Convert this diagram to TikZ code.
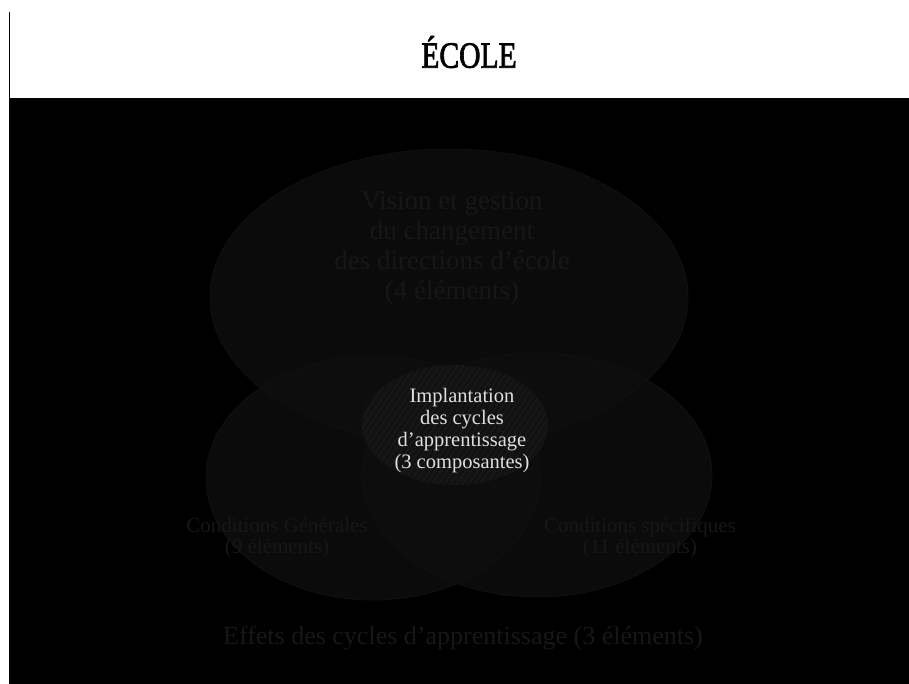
\documentclass[tikz,border=0pt]{standalone}
\usepackage{fontspec}
\setmainfont{Liberation Serif}
\newfontfamily\ttlfont[FakeBold=2.2]{Liberation Serif}
\definecolor{zonefill}{HTML}{0B0B0B}
\definecolor{zoneedge}{HTML}{111111}
\definecolor{dimgray}{HTML}{171717}
\definecolor{hatchgray}{HTML}{1D1D1D}
\begin{document}
\begin{tikzpicture}[x=1pt,y=-1pt,
  zonefillstyle/.style={fill=zonefill,draw=none},
  zoneline/.style={draw=zoneedge,line width=0.8pt},
  dimtext/.style={text=dimgray,align=center,inner sep=0pt},
  title/.style={inner sep=0pt}]
\useasboundingbox (0,0) rectangle (909,684);
\fill[white] (0,0) rectangle (909,684);
\fill[black] (9,98) rectangle (909,684);
\draw[line width=1pt] (9,12) -- (9,98);
\node[title] (ttl) at (469,52) {\scalebox{0.8}[1]{\ttlfont\fontsize{37}{37}\selectfont ÉCOLE}};
% ellipses: fills first, then all outlines
\path[zonefillstyle] (449,297) ellipse [x radius=239,y radius=148];
\path[zonefillstyle] (373,478) ellipse [x radius=167,y radius=122];
\path[zonefillstyle] (537,475) ellipse [x radius=175,y radius=122];
\begin{scope}
  \clip (373,478) ellipse [x radius=167,y radius=122];
  \fill[white,opacity=0.012] (537,475) ellipse [x radius=175,y radius=122];
  \fill[white,opacity=0.012] (449,297) ellipse [x radius=239,y radius=148];
\end{scope}
\begin{scope}
  \clip (537,475) ellipse [x radius=175,y radius=122];
  \fill[white,opacity=0.012] (449,297) ellipse [x radius=239,y radius=148];
\end{scope}
\path[zoneline] (449,297) ellipse [x radius=239,y radius=148];
\path[zoneline] (373,478) ellipse [x radius=167,y radius=122];
\path[zoneline] (537,475) ellipse [x radius=175,y radius=122];
\begin{scope}
  \clip (455,425) ellipse [x radius=93,y radius=60];
  \fill[black!93!white] (362,365) rectangle (548,485);
  \foreach \k in {-200,-194,...,240}
    \draw[hatchgray,line width=0.8pt] (340+\k,500) -- (440+\k,350);
\end{scope}
% texts
\node[dimtext,font=\fontsize{27}{30}\selectfont] (vis) at (452,248)
  {Vision et gestion\\du changement\\des directions d’école\\(4 éléments)};
\node[text=white!88!black,align=center,inner sep=0pt,font=\fontsize{20.5}{22}\selectfont] (impl) at (462,431)
  {Implantation\\des cycles\\d’apprentissage\\(3 composantes)};
\node[dimtext,font=\fontsize{21}{21}\selectfont] (cg) at (277,538)
  {Conditions Générales\\(9 éléments)};
\node[dimtext,font=\fontsize{21}{21}\selectfont] (cs) at (640,538)
  {Conditions spécifiques\\(11 éléments)};
\node[dimtext,font=\fontsize{26}{28}\selectfont] (eff) at (463,638)
  {Effets des cycles d’apprentissage (3 éléments)};
\end{tikzpicture}
\end{document}
